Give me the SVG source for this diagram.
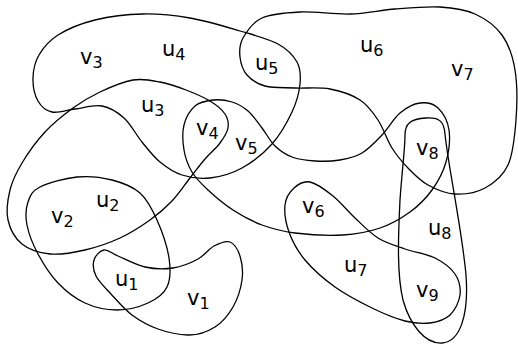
<svg xmlns="http://www.w3.org/2000/svg" width="518" height="345" viewBox="0 0 518 345">
<style>
.c{fill:none;stroke:#000;stroke-width:1.3}
.t{font-family:"DejaVu Sans",sans-serif;font-size:21px;fill:#000}
.s{font-size:16px}
</style>
<rect width="518" height="345" fill="#fff"/>
<g id="edges">
<path id="eA" class="c" d="M143,14 C158.8,13.7 173.8,15.2 190,18 C206.2,20.8 225.3,26.7 240,31 C254.7,35.3 268.5,38.8 278,44 C287.5,49.2 293.3,55.3 297,62 C300.7,68.7 300.8,75.7 300,84 C299.2,92.3 296.7,102 292,112 C287.3,122 280.3,134.7 272,144 C263.7,153.3 252.3,162.3 242,168 C231.7,173.7 220,176.8 210,178 C200,179.2 190.3,177.7 182,175 C173.7,172.3 166.7,167.5 160,162 C153.3,156.5 148,149.3 142,142 C136,134.7 130.7,124 124,118 C117.3,112 110.2,107.5 102,106 C93.8,104.5 83.3,108 75,109 C66.7,110 58.2,113.3 52,112 C45.8,110.7 41.2,106.7 38,101 C34.8,95.3 32.8,85.7 33,78 C33.2,70.3 34.8,62.2 39,55 C43.2,47.8 48.7,40.8 58,35 C67.3,29.2 80.8,23.5 95,20 C109.2,16.5 127.2,14.3 143,14 Z"/>
<path id="eB" class="c" d="M100,92 C110,87.3 123,81.7 133,80 C143,78.3 151.2,80.3 160,82 C168.8,83.7 177.7,86.8 186,90 C194.3,93.2 203.5,97 210,101 C216.5,105 222,109.5 225,114 C228,118.5 228.8,123.2 228,128 C227.2,132.8 223.8,137.8 220,143 C216.2,148.2 210,153.2 205,159 C200,164.8 195.5,171 190,178 C184.5,185 178.7,194 172,201 C165.3,208 158.7,213.8 150,220 C141.3,226.2 130.8,233 120,238 C109.2,243 96.7,247.3 85,250 C73.3,252.7 60.5,255 50,254 C39.5,253 29,249.7 22,244 C15,238.3 10,229 8,220 C6,211 7.7,199.5 10,190 C12.3,180.5 16.2,172.7 22,163 C27.8,153.3 36.5,141.2 45,132 C53.5,122.8 63.8,114.7 73,108 C82.2,101.3 90,96.7 100,92 Z"/>
<path id="eC" class="c" d="M213,100 C219.2,99.3 226.2,100.2 232,102 C237.8,103.8 243,106.7 248,111 C253,115.3 257.5,122.2 262,128 C266.5,133.8 270,141.2 275,146 C280,150.8 285.3,154.5 292,157 C298.7,159.5 307,160.5 315,161 C323,161.5 332.2,161.3 340,160 C347.8,158.7 355,157.2 362,153 C369,148.8 375.7,141.7 382,135 C388.3,128.3 393.7,118.3 400,113 C406.3,107.7 413.7,103.8 420,103 C426.3,102.2 433.2,103.5 438,108 C442.8,112.5 447.7,121 449,130 C450.3,139 448.8,152 446,162 C443.2,172 438,181.7 432,190 C426,198.3 418.7,205.7 410,212 C401.3,218.3 391.2,224.2 380,228 C368.8,231.8 357.2,234.2 343,235 C328.8,235.8 308.5,234.7 295,233 C281.5,231.3 272.3,228.8 262,225 C251.7,221.2 242,215.8 233,210 C224,204.2 214.8,196.3 208,190 C201.2,183.7 196,178.7 192,172 C188,165.3 185.3,157.8 184,150 C182.7,142.2 182.2,132.3 184,125 C185.8,117.7 190.2,110.2 195,106 C199.8,101.8 206.8,100.7 213,100 Z"/>
<path id="eD" class="c" d="M243,38 C246.7,31.5 252.5,22.3 262,18 C271.5,13.7 285.3,12.7 300,12 C314.7,11.3 334.2,14.5 350,14 C365.8,13.5 380,10.2 395,9 C410,7.8 426.7,6.2 440,7 C453.3,7.8 464.7,9.3 475,14 C485.3,18.7 495.3,25.7 502,35 C508.7,44.3 512.7,55.8 515,70 C517.3,84.2 517.2,104.2 516,120 C514.8,135.8 513.2,153.7 508,165 C502.8,176.3 493.8,183.2 485,188 C476.2,192.8 464.5,194.5 455,194 C445.5,193.5 435.8,189.3 428,185 C420.2,180.7 414,174.2 408,168 C402,161.8 397,156 392,148 C387,140 383.3,128 378,120 C372.7,112 368,105.2 360,100 C352,94.8 340.8,91 330,89 C319.2,87 305.8,88.5 295,88 C284.2,87.5 273,88.2 265,86 C257,83.8 251.2,79.8 247,75 C242.8,70.2 240.7,63.2 240,57 C239.3,50.8 239.3,44.5 243,38 Z"/>
<path id="eE" class="c" d="M405,135 C405,124 410,119 426,118 C440,117 444,122 445,134 C448,165 462,230 466,275 C469,315 460,342 442,343 C425,344 410,325 403,300 C397,275 398,240 400,200 C402,170 405,150 405,135 Z"/>
<path id="eF" class="c" d="M310,182 C303.5,180.7 298.2,184.2 294,188 C289.8,191.8 285.8,197.7 285,205 C284.2,212.3 285.7,222.8 289,232 C292.3,241.2 297.3,250.8 305,260 C312.7,269.2 323.8,279 335,287 C346.2,295 360.3,302.3 372,308 C383.7,313.7 395.3,318.5 405,321 C414.7,323.5 422.5,324 430,323 C437.5,322 445,319.7 450,315 C455,310.3 459.2,301.8 460,295 C460.8,288.2 459.2,280.2 455,274 C450.8,267.8 443.3,262.2 435,258 C426.7,253.8 414.5,252.3 405,249 C395.5,245.7 386.3,243.2 378,238 C369.7,232.8 362.5,225 355,218 C347.5,211 340.5,202 333,196 C325.5,190 316.5,183.3 310,182 Z"/>
<path id="eG" class="c" d="M40,187 C48.2,182.8 65,178.2 77,177 C89,175.8 101.5,177.3 112,180 C122.5,182.7 132.5,186.3 140,193 C147.5,199.7 152.2,209.2 157,220 C161.8,230.8 167.3,246.8 169,258 C170.7,269.2 170.5,279.5 167,287 C163.5,294.5 156.3,299.2 148,303 C139.7,306.8 127.5,310 117,310 C106.5,310 94.8,307.5 85,303 C75.2,298.5 65.8,291.2 58,283 C50.2,274.8 43.2,263.7 38,254 C32.8,244.3 28.7,233.7 27,225 C25.3,216.3 25.8,208.3 28,202 C30.2,195.7 31.8,191.2 40,187 Z"/>
<path id="eH" class="c" d="M104,250 C108,249.3 111.2,253.2 118,256 C124.8,258.8 135.8,265 145,267 C154.2,269 164.2,269.3 173,268 C181.8,266.7 191.2,262.7 198,259 C204.8,255.3 208.7,248.8 214,246 C219.3,243.2 225.7,240.3 230,242 C234.3,243.7 238,249.7 240,256 C242,262.3 243.2,271.5 242,280 C240.8,288.5 237.5,299.2 233,307 C228.5,314.8 222.5,322.3 215,327 C207.5,331.7 197.5,335.3 188,335 C178.5,334.7 167.3,332.3 158,329 C148.7,325.7 139.8,320.8 132,315 C124.2,309.2 117,300.5 111,294 C105,287.5 98.8,281.7 96,276 C93.2,270.3 92.7,264.3 94,260 C95.3,255.7 100,250.7 104,250 Z"/>
</g>
<g id="v3"><text class="t" x="80" y="64">v<tspan class="s" dy="4">3</tspan></text></g>
<g id="u4"><text class="t" x="162" y="56">u<tspan class="s" dy="4">4</tspan></text></g>
<g id="u5"><text class="t" x="255" y="70">u<tspan class="s" dy="4">5</tspan></text></g>
<g id="u6"><text class="t" x="360" y="52">u<tspan class="s" dy="4">6</tspan></text></g>
<g id="v7"><text class="t" x="451" y="76">v<tspan class="s" dy="4">7</tspan></text></g>
<g id="v8"><text class="t" x="416" y="155">v<tspan class="s" dy="4">8</tspan></text></g>
<g id="u3"><text class="t" x="141" y="112">u<tspan class="s" dy="4">3</tspan></text></g>
<g id="v4"><text class="t" x="196" y="135">v<tspan class="s" dy="4">4</tspan></text></g>
<g id="v5"><text class="t" x="235" y="150">v<tspan class="s" dy="4">5</tspan></text></g>
<g id="v2"><text class="t" x="51" y="223">v<tspan class="s" dy="4">2</tspan></text></g>
<g id="u2"><text class="t" x="96" y="207">u<tspan class="s" dy="4">2</tspan></text></g>
<g id="u1"><text class="t" x="115" y="286">u<tspan class="s" dy="4">1</tspan></text></g>
<g id="v1"><text class="t" x="187" y="305">v<tspan class="s" dy="4">1</tspan></text></g>
<g id="v6"><text class="t" x="302" y="213">v<tspan class="s" dy="4">6</tspan></text></g>
<g id="u8"><text class="t" x="428" y="235">u<tspan class="s" dy="4">8</tspan></text></g>
<g id="u7"><text class="t" x="344" y="272">u<tspan class="s" dy="4">7</tspan></text></g>
<g id="v9"><text class="t" x="416" y="297">v<tspan class="s" dy="4">9</tspan></text></g>
</svg>
